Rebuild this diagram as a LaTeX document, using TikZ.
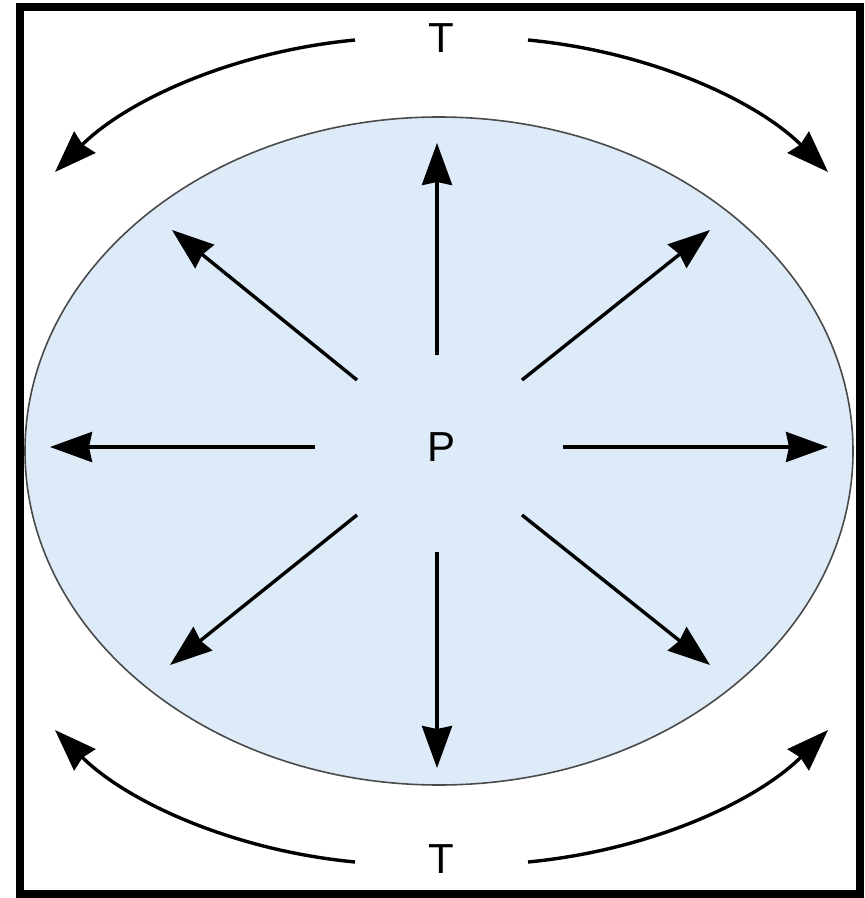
\documentclass[tikz,border=0pt]{standalone}
\usepackage{fontspec}
\setmainfont{Liberation Sans}
\usetikzlibrary{arrows.meta}

\definecolor{discfill}{HTML}{DDEBF8}
\definecolor{discline}{HTML}{4A4A4A}

\begin{document}
\begin{tikzpicture}[
x=0.5pt, y=-0.5pt,
arr/.style={-{Stealth[length=21pt, width=15pt, inset=1.5pt]}, line width=1.7pt},
lbl/.style={inner sep=0pt, font=\fontsize{21}{21}\selectfont},
disc/.style={draw=discline, fill=discfill, line width=0.8pt}
]
\useasboundingbox (0,0) rectangle (864,898);
\draw[line width=4pt] (20,7) rectangle (860,894);

% pressure disc
\draw[disc] (439,451) ellipse [x radius=207pt, y radius=167pt];
\node[lbl] (p) at (441,447) {P};

% radial arrows
\coordinate (n0) at (437,355); \coordinate (n1) at (437,143);
\coordinate (s0) at (437,552); \coordinate (s1) at (437,768);
\coordinate (w0) at (315,447); \coordinate (w1) at (50,447);
\coordinate (e0) at (563,447); \coordinate (e1) at (828,447);
\coordinate (nw0) at (357,380); \coordinate (nw1) at (172,230);
\coordinate (ne0) at (522,380); \coordinate (ne1) at (710,230);
\coordinate (sw0) at (357,515); \coordinate (sw1) at (170,665);
\coordinate (se0) at (522,515); \coordinate (se1) at (710,665);

\draw[arr] (n0) -- (n1);
\draw[arr] (s0) -- (s1);
\draw[arr] (w0) -- (w1);
\draw[arr] (e0) -- (e1);
\draw[arr] (nw0) -- (nw1);
\draw[arr] (ne0) -- (ne1);
\draw[arr] (sw0) -- (sw1);
\draw[arr] (se0) -- (se1);

% tension
\node[lbl] (ttop) at (441,38) {T};
\node[lbl] (tbot) at (441,859) {T};

\coordinate (tl0) at (355,40);  \coordinate (tl1) at (55,172);
\coordinate (tr0) at (528,40);  \coordinate (tr1) at (828,172);
\coordinate (bl0) at (355,862); \coordinate (bl1) at (55,730);
\coordinate (br0) at (528,862); \coordinate (br1) at (828,730);

\draw[arr] (tl0) .. controls (230,52) and (125,102) .. (tl1);
\draw[arr] (tr0) .. controls (653,52) and (758,102) .. (tr1);
\draw[arr] (bl0) .. controls (230,850) and (125,800) .. (bl1);
\draw[arr] (br0) .. controls (653,850) and (758,800) .. (br1);
\end{tikzpicture}
\end{document}
